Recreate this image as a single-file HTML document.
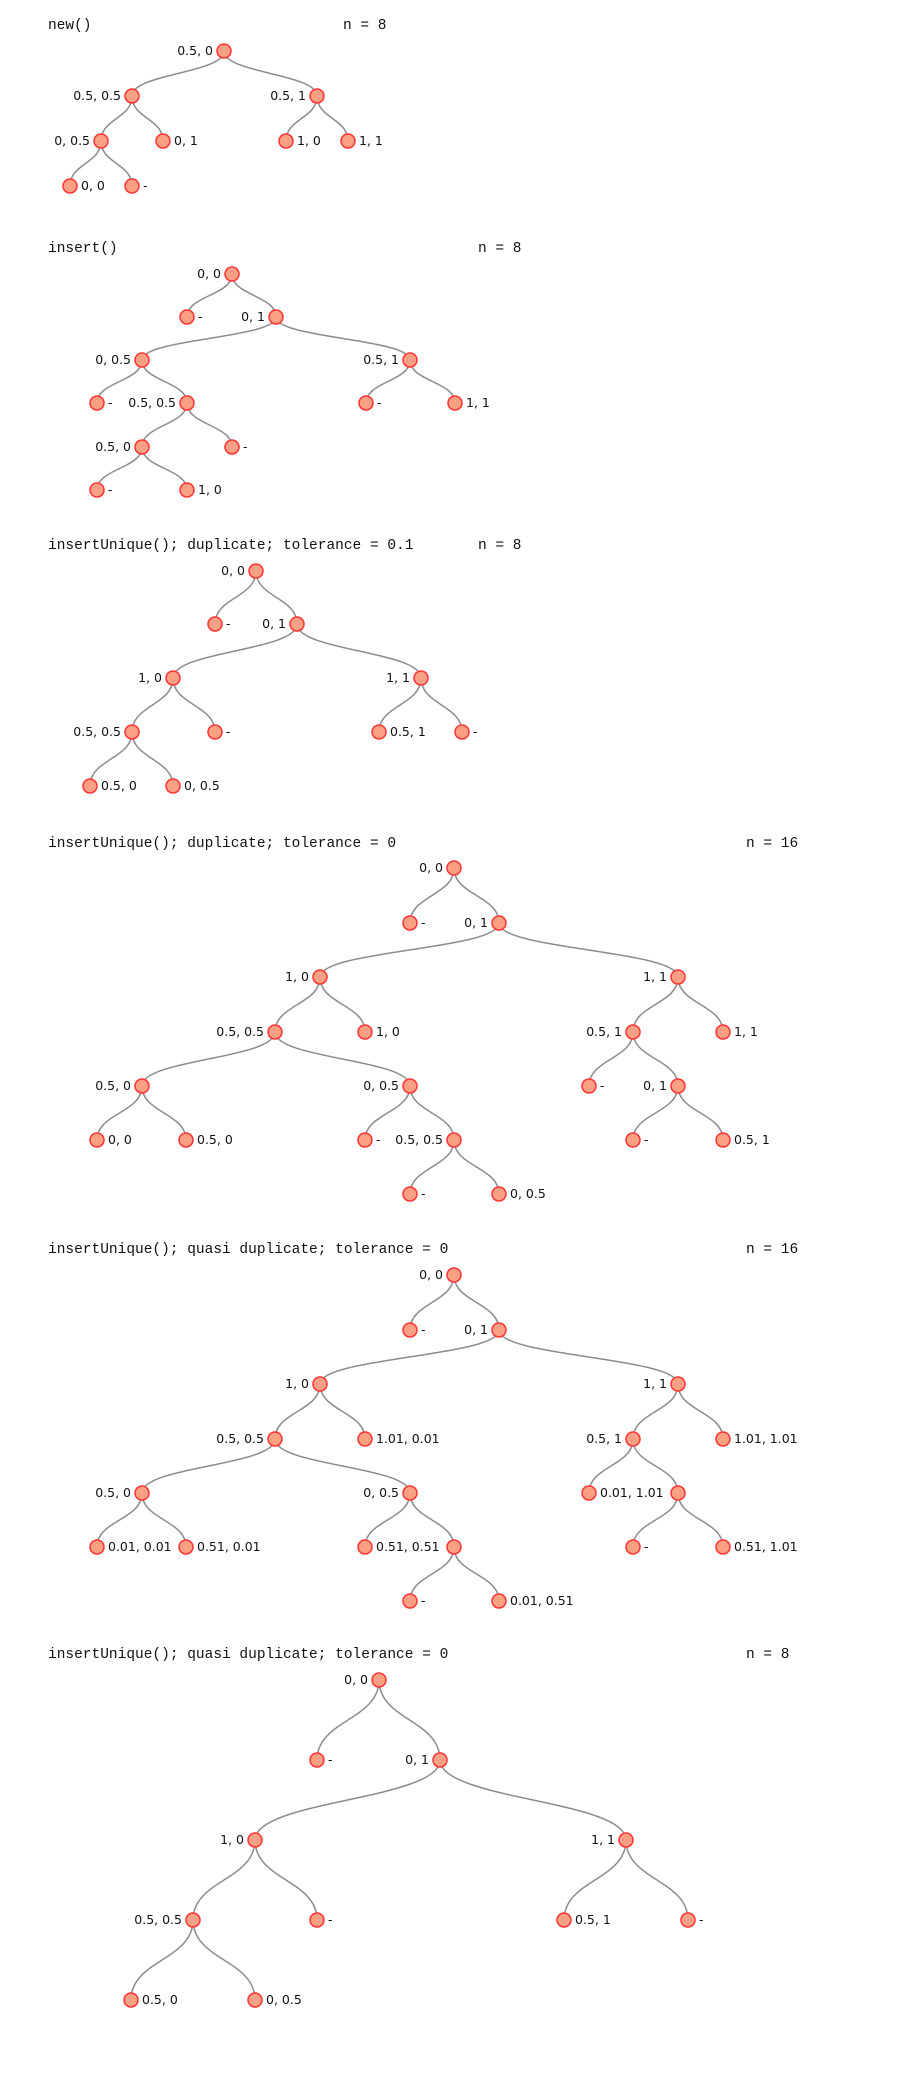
<!DOCTYPE html>
<html><head><meta charset="utf-8"><style>
html,body{margin:0;padding:0;background:#fff;width:922px;height:2090px;overflow:hidden}
svg{display:block}
path{fill:none;stroke:#8c8c8c;stroke-width:1.5}
circle{fill:#fca083;stroke:#f33;stroke-width:1.5}
text{font-family:"DejaVu Sans","Liberation Sans",sans-serif;font-size:12.5px;fill:#111}
text.l{text-anchor:end}
text.t{font-family:"Liberation Mono",monospace;font-size:14.5px}
</style></head><body>
<svg width="922" height="2090" viewBox="0 0 922 2090">
<!-- Section 1 -->
<text class="t" x="48" y="29">new()</text><text class="t" x="343" y="29">n = 8</text>
<path d="M224 51C224 73.5 132 73.5 132 96"/><path d="M224 51C224 73.5 317 73.5 317 96"/>
<path d="M132 96C132 118.5 101 118.5 101 141"/><path d="M132 96C132 118.5 163 118.5 163 141"/>
<path d="M317 96C317 118.5 286 118.5 286 141"/><path d="M317 96C317 118.5 348 118.5 348 141"/>
<path d="M101 141C101 163.5 70 163.5 70 186"/><path d="M101 141C101 163.5 132 163.5 132 186"/>
<circle cx="224" cy="51" r="7"/><circle cx="132" cy="96" r="7"/><circle cx="317" cy="96" r="7"/>
<circle cx="101" cy="141" r="7"/><circle cx="163" cy="141" r="7"/><circle cx="286" cy="141" r="7"/><circle cx="348" cy="141" r="7"/>
<circle cx="70" cy="186" r="7"/><circle cx="132" cy="186" r="7"/>
<text class="l" x="213" y="55">0.5, 0</text><text class="l" x="121" y="100">0.5, 0.5</text><text class="l" x="306" y="100">0.5, 1</text>
<text class="l" x="90" y="145">0, 0.5</text><text x="174" y="145">0, 1</text><text x="297" y="145">1, 0</text><text x="359" y="145">1, 1</text>
<text x="81" y="190">0, 0</text><text x="143" y="190">-</text>

<!-- Section 2 -->
<text class="t" x="48" y="252">insert()</text><text class="t" x="478" y="252">n = 8</text>
<path d="M232 274C232 295.5 187 295.5 187 317"/><path d="M232 274C232 295.5 276 295.5 276 317"/>
<path d="M276 317C276 338.5 142 338.5 142 360"/><path d="M276 317C276 338.5 410 338.5 410 360"/>
<path d="M142 360C142 381.5 97 381.5 97 403"/><path d="M142 360C142 381.5 187 381.5 187 403"/>
<path d="M410 360C410 381.5 366 381.5 366 403"/><path d="M410 360C410 381.5 455 381.5 455 403"/>
<path d="M187 403C187 425 142 425 142 447"/><path d="M187 403C187 425 232 425 232 447"/>
<path d="M142 447C142 468.5 97 468.5 97 490"/><path d="M142 447C142 468.5 187 468.5 187 490"/>
<circle cx="232" cy="274" r="7"/><circle cx="187" cy="317" r="7"/><circle cx="276" cy="317" r="7"/>
<circle cx="142" cy="360" r="7"/><circle cx="410" cy="360" r="7"/>
<circle cx="97" cy="403" r="7"/><circle cx="187" cy="403" r="7"/><circle cx="366" cy="403" r="7"/><circle cx="455" cy="403" r="7"/>
<circle cx="142" cy="447" r="7"/><circle cx="232" cy="447" r="7"/><circle cx="97" cy="490" r="7"/><circle cx="187" cy="490" r="7"/>
<text class="l" x="221" y="278">0, 0</text><text x="198" y="321">-</text><text class="l" x="265" y="321">0, 1</text>
<text class="l" x="131" y="364">0, 0.5</text><text class="l" x="399" y="364">0.5, 1</text>
<text x="108" y="407">-</text><text class="l" x="176" y="407">0.5, 0.5</text><text x="377" y="407">-</text><text x="466" y="407">1, 1</text>
<text class="l" x="131" y="451">0.5, 0</text><text x="243" y="451">-</text><text x="108" y="494">-</text><text x="198" y="494">1, 0</text>

<!-- Section 3 -->
<text class="t" x="48" y="549">insertUnique(); duplicate; tolerance = 0.1</text><text class="t" x="478" y="549">n = 8</text>
<path d="M256 571C256 597.5 215 597.5 215 624"/><path d="M256 571C256 597.5 297 597.5 297 624"/>
<path d="M297 624C297 651 173 651 173 678"/><path d="M297 624C297 651 421 651 421 678"/>
<path d="M173 678C173 705 132 705 132 732"/><path d="M173 678C173 705 215 705 215 732"/>
<path d="M421 678C421 705 379 705 379 732"/><path d="M421 678C421 705 462 705 462 732"/>
<path d="M132 732C132 759 90 759 90 786"/><path d="M132 732C132 759 173 759 173 786"/>
<circle cx="256" cy="571" r="7"/><circle cx="215" cy="624" r="7"/><circle cx="297" cy="624" r="7"/>
<circle cx="173" cy="678" r="7"/><circle cx="421" cy="678" r="7"/>
<circle cx="132" cy="732" r="7"/><circle cx="215" cy="732" r="7"/><circle cx="379" cy="732" r="7"/><circle cx="462" cy="732" r="7"/>
<circle cx="90" cy="786" r="7"/><circle cx="173" cy="786" r="7"/>
<text class="l" x="245" y="575">0, 0</text><text x="226" y="628">-</text><text class="l" x="286" y="628">0, 1</text>
<text class="l" x="162" y="682">1, 0</text><text class="l" x="410" y="682">1, 1</text>
<text class="l" x="121" y="736">0.5, 0.5</text><text x="226" y="736">-</text><text x="390" y="736">0.5, 1</text><text x="473" y="736">-</text>
<text x="101" y="790">0.5, 0</text><text x="184" y="790">0, 0.5</text>

<!-- Section 4 -->
<text class="t" x="48" y="847">insertUnique(); duplicate; tolerance = 0</text><text class="t" x="746" y="847">n = 16</text>
<g>
<path d="M454 868C454 895.5 410 895.5 410 923"/><path d="M454 868C454 895.5 499 895.5 499 923"/>
<path d="M499 923C499 950 320 950 320 977"/><path d="M499 923C499 950 678 950 678 977"/>
<path d="M320 977C320 1004.5 275 1004.5 275 1032"/><path d="M320 977C320 1004.5 365 1004.5 365 1032"/>
<path d="M678 977C678 1004.5 633 1004.5 633 1032"/><path d="M678 977C678 1004.5 723 1004.5 723 1032"/>
<path d="M275 1032C275 1059 142 1059 142 1086"/><path d="M275 1032C275 1059 410 1059 410 1086"/>
<path d="M633 1032C633 1059 589 1059 589 1086"/><path d="M633 1032C633 1059 678 1059 678 1086"/>
<path d="M142 1086C142 1113 97 1113 97 1140"/><path d="M142 1086C142 1113 186 1113 186 1140"/>
<path d="M410 1086C410 1113 365 1113 365 1140"/><path d="M410 1086C410 1113 454 1113 454 1140"/>
<path d="M678 1086C678 1113 633 1113 633 1140"/><path d="M678 1086C678 1113 723 1113 723 1140"/>
<path d="M454 1140C454 1167 410 1167 410 1194"/><path d="M454 1140C454 1167 499 1167 499 1194"/>
<circle cx="454" cy="868" r="7"/><circle cx="410" cy="923" r="7"/><circle cx="499" cy="923" r="7"/>
<circle cx="320" cy="977" r="7"/><circle cx="678" cy="977" r="7"/>
<circle cx="275" cy="1032" r="7"/><circle cx="365" cy="1032" r="7"/><circle cx="633" cy="1032" r="7"/><circle cx="723" cy="1032" r="7"/>
<circle cx="142" cy="1086" r="7"/><circle cx="410" cy="1086" r="7"/><circle cx="589" cy="1086" r="7"/><circle cx="678" cy="1086" r="7"/>
<circle cx="97" cy="1140" r="7"/><circle cx="186" cy="1140" r="7"/><circle cx="365" cy="1140" r="7"/><circle cx="454" cy="1140" r="7"/><circle cx="633" cy="1140" r="7"/><circle cx="723" cy="1140" r="7"/>
<circle cx="410" cy="1194" r="7"/><circle cx="499" cy="1194" r="7"/>
</g>
<text class="l" x="443" y="872">0, 0</text><text x="421" y="927">-</text><text class="l" x="488" y="927">0, 1</text>
<text class="l" x="309" y="981">1, 0</text><text class="l" x="667" y="981">1, 1</text>
<text class="l" x="264" y="1036">0.5, 0.5</text><text x="376" y="1036">1, 0</text><text class="l" x="622" y="1036">0.5, 1</text><text x="734" y="1036">1, 1</text>
<text class="l" x="131" y="1090">0.5, 0</text><text class="l" x="399" y="1090">0, 0.5</text><text x="600" y="1090">-</text><text class="l" x="667" y="1090">0, 1</text>
<text x="108" y="1144">0, 0</text><text x="197" y="1144">0.5, 0</text><text x="376" y="1144">-</text><text class="l" x="443" y="1144">0.5, 0.5</text><text x="644" y="1144">-</text><text x="734" y="1144">0.5, 1</text>
<text x="421" y="1198">-</text><text x="510" y="1198">0, 0.5</text>

<!-- Section 5 -->
<text class="t" x="48" y="1253">insertUnique(); quasi duplicate; tolerance = 0</text><text class="t" x="746" y="1253">n = 16</text>
<g transform="translate(0,407)">
<path d="M454 868C454 895.5 410 895.5 410 923"/><path d="M454 868C454 895.5 499 895.5 499 923"/>
<path d="M499 923C499 950 320 950 320 977"/><path d="M499 923C499 950 678 950 678 977"/>
<path d="M320 977C320 1004.5 275 1004.5 275 1032"/><path d="M320 977C320 1004.5 365 1004.5 365 1032"/>
<path d="M678 977C678 1004.5 633 1004.5 633 1032"/><path d="M678 977C678 1004.5 723 1004.5 723 1032"/>
<path d="M275 1032C275 1059 142 1059 142 1086"/><path d="M275 1032C275 1059 410 1059 410 1086"/>
<path d="M633 1032C633 1059 589 1059 589 1086"/><path d="M633 1032C633 1059 678 1059 678 1086"/>
<path d="M142 1086C142 1113 97 1113 97 1140"/><path d="M142 1086C142 1113 186 1113 186 1140"/>
<path d="M410 1086C410 1113 365 1113 365 1140"/><path d="M410 1086C410 1113 454 1113 454 1140"/>
<path d="M678 1086C678 1113 633 1113 633 1140"/><path d="M678 1086C678 1113 723 1113 723 1140"/>
<path d="M454 1140C454 1167 410 1167 410 1194"/><path d="M454 1140C454 1167 499 1167 499 1194"/>
<circle cx="454" cy="868" r="7"/><circle cx="410" cy="923" r="7"/><circle cx="499" cy="923" r="7"/>
<circle cx="320" cy="977" r="7"/><circle cx="678" cy="977" r="7"/>
<circle cx="275" cy="1032" r="7"/><circle cx="365" cy="1032" r="7"/><circle cx="633" cy="1032" r="7"/><circle cx="723" cy="1032" r="7"/>
<circle cx="142" cy="1086" r="7"/><circle cx="410" cy="1086" r="7"/><circle cx="589" cy="1086" r="7"/><circle cx="678" cy="1086" r="7"/>
<circle cx="97" cy="1140" r="7"/><circle cx="186" cy="1140" r="7"/><circle cx="365" cy="1140" r="7"/><circle cx="454" cy="1140" r="7"/><circle cx="633" cy="1140" r="7"/><circle cx="723" cy="1140" r="7"/>
<circle cx="410" cy="1194" r="7"/><circle cx="499" cy="1194" r="7"/>
<text class="l" x="443" y="872">0, 0</text><text x="421" y="927">-</text><text class="l" x="488" y="927">0, 1</text>
<text class="l" x="309" y="981">1, 0</text><text class="l" x="667" y="981">1, 1</text>
<text class="l" x="264" y="1036">0.5, 0.5</text><text x="376" y="1036">1.01, 0.01</text><text class="l" x="622" y="1036">0.5, 1</text><text x="734" y="1036">1.01, 1.01</text>
<text class="l" x="131" y="1090">0.5, 0</text><text class="l" x="399" y="1090">0, 0.5</text><text x="600" y="1090">0.01, 1.01</text>
<text x="108" y="1144">0.01, 0.01</text><text x="197" y="1144">0.51, 0.01</text><text x="376" y="1144">0.51, 0.51</text><text x="644" y="1144">-</text><text x="734" y="1144">0.51, 1.01</text>
<text x="421" y="1198">-</text><text x="510" y="1198">0.01, 0.51</text>
</g>

<!-- Section 6 -->
<text class="t" x="48" y="1658">insertUnique(); quasi duplicate; tolerance = 0</text><text class="t" x="746" y="1658">n = 8</text>
<path d="M379 1680C379 1720 317 1720 317 1760"/><path d="M379 1680C379 1720 440 1720 440 1760"/>
<path d="M440 1760C440 1800 255 1800 255 1840"/><path d="M440 1760C440 1800 626 1800 626 1840"/>
<path d="M255 1840C255 1880 193 1880 193 1920"/><path d="M255 1840C255 1880 317 1880 317 1920"/>
<path d="M626 1840C626 1880 564 1880 564 1920"/><path d="M626 1840C626 1880 688 1880 688 1920"/>
<path d="M193 1920C193 1960 131 1960 131 2000"/><path d="M193 1920C193 1960 255 1960 255 2000"/>
<circle cx="379" cy="1680" r="7"/><circle cx="317" cy="1760" r="7"/><circle cx="440" cy="1760" r="7"/>
<circle cx="255" cy="1840" r="7"/><circle cx="626" cy="1840" r="7"/>
<circle cx="193" cy="1920" r="7"/><circle cx="317" cy="1920" r="7"/><circle cx="564" cy="1920" r="7"/><circle cx="688" cy="1920" r="7"/>
<circle cx="131" cy="2000" r="7"/><circle cx="255" cy="2000" r="7"/>
<text class="l" x="368" y="1684">0, 0</text><text x="328" y="1764">-</text><text class="l" x="429" y="1764">0, 1</text>
<text class="l" x="244" y="1844">1, 0</text><text class="l" x="615" y="1844">1, 1</text>
<text class="l" x="182" y="1924">0.5, 0.5</text><text x="328" y="1924">-</text><text x="575" y="1924">0.5, 1</text><text x="699" y="1924">-</text>
<text x="142" y="2004">0.5, 0</text><text x="266" y="2004">0, 0.5</text>
</svg>
</body></html>
